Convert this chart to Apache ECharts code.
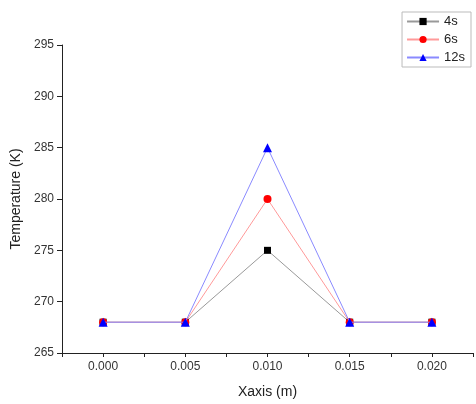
<!DOCTYPE html>
<html>
<head>
<meta charset="utf-8">
<script src="https://cdn.jsdelivr.net/npm/echarts@6/dist/echarts.min.js"></script>
<style>
    html, body { margin: 0; padding: 0; background: #fff; }
    #chart { width: 476px; height: 404px; }
</style>
</head>
<body>
<div id="chart"></div>
<script>
    // data
    var xPos = [0.000, 0.005, 0.010, 0.015, 0.020];
    var t4s = [268, 268, 275, 268, 268];
    var t6s = [268, 268, 280, 268, 268];
    var t12s = [268, 268, 285, 268, 268];
    var seriesNames = ['4s', '6s', '12s'];

    function pairs(ys) {
        return xPos.map(function (x, i) { return [x, ys[i]]; });
    }

    var chart = echarts.init(document.getElementById('chart'));
    var font = 'Liberation Sans, Arial, sans-serif';

    chart.setOption({
        animation: false,
        textStyle: { fontFamily: font },
        grid: { left: 62, top: 45, right: 0, bottom: 50 },
        legend: {
            orient: 'vertical',
            right: 5,
            top: 12,
            data: seriesNames,
            itemWidth: 32,
            itemHeight: 9,
            itemGap: 5,
            padding: [3, 6, 3, 4],
            borderColor: '#bbb',
            borderWidth: 1,
            textStyle: { fontSize: 13, color: '#222', fontFamily: font }
        },
        xAxis: {
            type: 'value',
            min: -0.0025,
            max: 0.0225,
            interval: 0.0025,
            name: 'Xaxis (m)',
            nameLocation: 'middle',
            nameGap: 32,
            nameTextStyle: { fontSize: 14, color: '#222' },
            splitLine: { show: false },
            axisLine: { onZero: false, lineStyle: { color: '#222', width: 1 } },
            axisTick: { show: true, inside: false, length: 4, lineStyle: { color: '#222' } },
            axisLabel: {
                color: '#333',
                fontSize: 12,
                margin: 8,
                formatter: function (v) {
                    var k = Math.round(v / 0.0025);
                    if (k < 0 || k % 2 !== 0) return '';
                    return (k * 0.0025).toFixed(3);
                }
            }
        },
        yAxis: {
            type: 'value',
            min: 265,
            max: 295,
            interval: 5,
            name: 'Temperature (K)',
            nameLocation: 'middle',
            nameGap: 37,
            nameTextStyle: { fontSize: 14, color: '#222' },
            splitLine: { show: false },
            axisLine: { show: true, onZero: false, lineStyle: { color: '#222', width: 1 } },
            axisTick: { show: true, inside: false, length: 5, lineStyle: { color: '#222' } },
            axisLabel: { color: '#333', fontSize: 12, margin: 8 }
        },
        series: [
            {
                name: '4s',
                type: 'line',
                data: pairs(t4s),
                symbol: 'rect',
                symbolSize: 7,
                itemStyle: { color: '#000' },
                lineStyle: { color: '#999', width: 1 },
                z: 3
            },
            {
                name: '6s',
                type: 'line',
                data: pairs(t6s),
                symbol: 'circle',
                symbolSize: 8,
                itemStyle: { color: '#ff0000' },
                lineStyle: { color: '#ff9a9a', width: 1 },
                z: 4
            },
            {
                name: '12s',
                type: 'line',
                data: pairs(t12s),
                symbol: 'triangle',
                symbolSize: 9,
                itemStyle: { color: '#0000ff' },
                lineStyle: { color: '#8a8aff', width: 1 },
                z: 5
            }
        ]
    });
</script>
</body>
</html>
